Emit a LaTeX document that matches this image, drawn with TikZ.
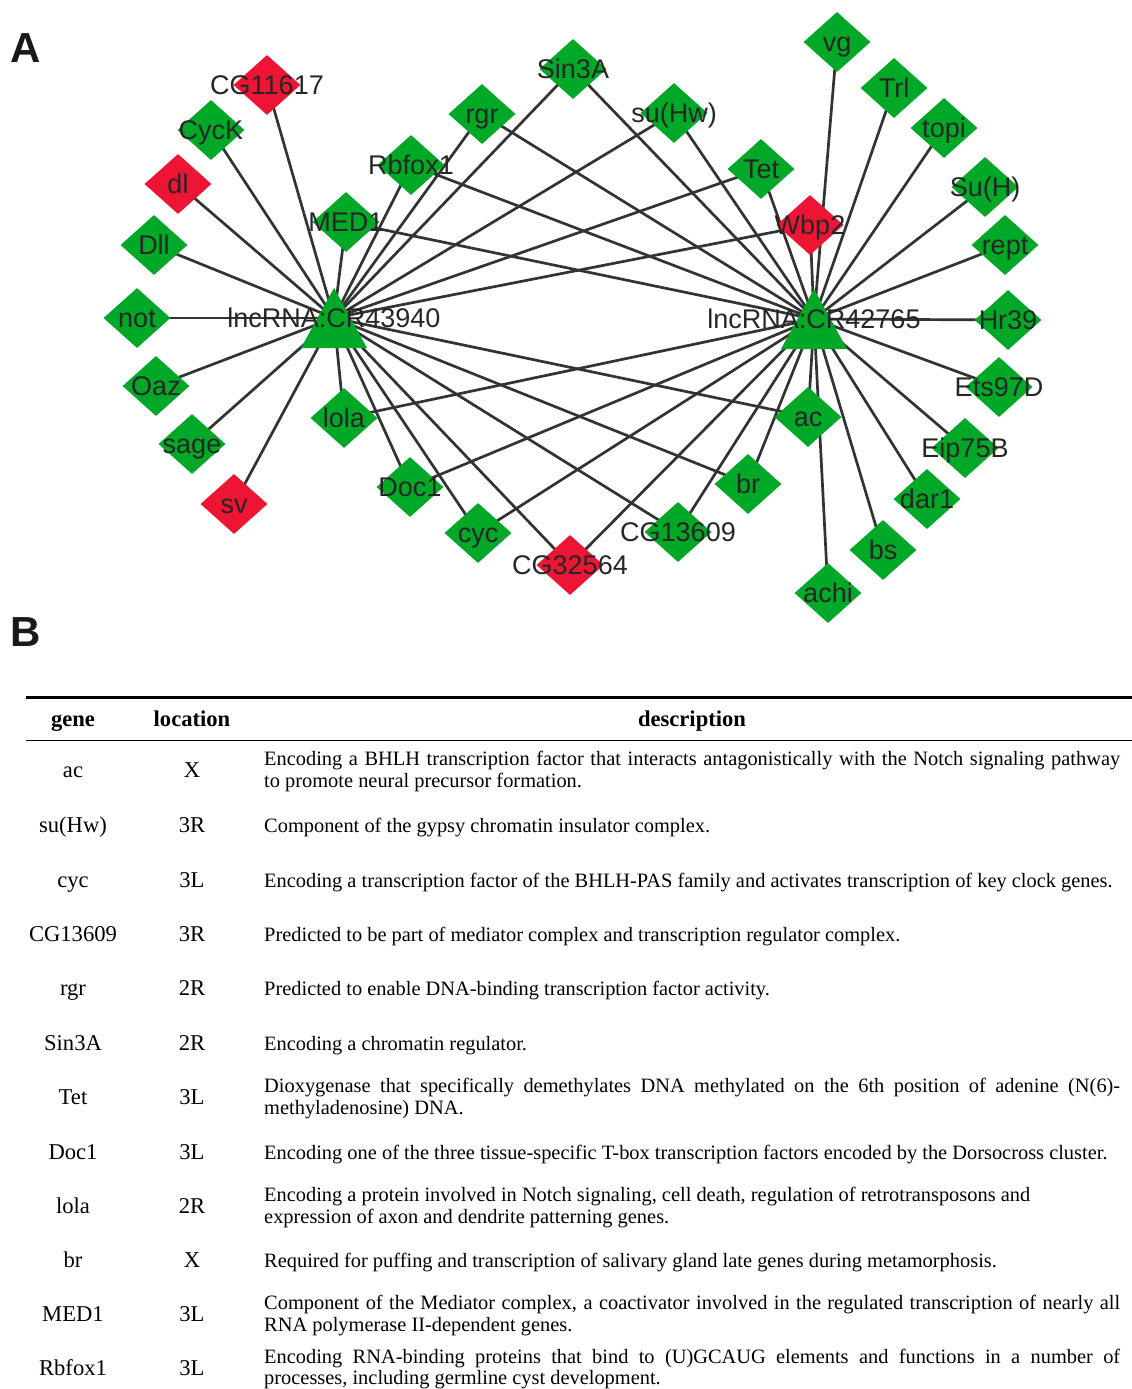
\documentclass[tikz,border=0pt]{standalone}
\usepackage{fontspec}
\setmainfont{Liberation Serif}
\newfontfamily\netfont{Liberation Sans}
\usetikzlibrary{shapes.geometric,backgrounds}
\definecolor{ngreen}{RGB}{0,168,40}
\definecolor{nred}{RGB}{238,20,52}
\definecolor{edgec}{RGB}{51,51,51}
\definecolor{labc}{RGB}{38,38,38}
\begin{document}
\begin{tikzpicture}[x=1pt,y=-1pt,
  labsty/.style={font=\netfont\fontsize{27}{30}\selectfont, text=labc, inner sep=0pt, text height=24.4pt, text depth=5.7pt},
  gnode/.style={diamond, fill=ngreen, minimum width=67pt, minimum height=60pt, inner sep=0pt, label={[labsty]center:{#1}}},
  rnode/.style={gnode={#1}, fill=nred},
  hub/.style={minimum width=66pt, minimum height=60pt, inner sep=0pt,
    path picture={\fill[ngreen] (path picture bounding box.north) -- (path picture bounding box.south east) -- (path picture bounding box.south west) -- cycle;},
    label={[labsty]center:{#1}}},
  edge/.style={draw=edgec, line width=2.7pt},
  panel/.style={font=\netfont\bfseries\fontsize{42}{42}\selectfont, text=black!90, inner sep=0pt},
  thead/.style={font=\bfseries\fontsize{22.6}{26}\selectfont, inner sep=0pt, anchor=base},
  tcell/.style={font=\fontsize{22.6}{26}\selectfont, inner sep=0pt, anchor=base},
  desc/.style={font=\fontsize{20.4}{22}\selectfont, inner sep=0pt, anchor=base west}
]
\useasboundingbox (0,0) rectangle (1132,1389);

\node[panel] (pA) at (26,48) {A};
\node[panel] (pB) at (26,632) {B};

% hubs
\node[hub={lncRNA:CR43940}] (L) at (334,318) {};
\node[hub={lncRNA:CR42765}] (R) at (814,319) {};

% left-only genes
\node[rnode={CG11617}] (CGa) at (267,85) {};
\node[gnode={CycK}] (CycK) at (211,130) {};
\node[rnode={dl}] (dl) at (178,184) {};
\node[gnode={Dll}] (Dll) at (154,245) {};
\node[gnode={not}] (not) at (137,318) {};
\node[gnode={Oaz}] (Oaz) at (156,386) {};
\node[gnode={sage}] (sage) at (192,444) {};
\node[rnode={sv}] (sv) at (234,504) {};

% shared genes
\node[gnode={MED1}] (MED) at (346,222) {};
\node[gnode={Rbfox1}] (Rbf) at (411,165) {};
\node[gnode={rgr}] (rgr) at (482,114) {};
\node[gnode={Sin3A}] (Sin) at (573,69) {};
\node[gnode={su(Hw)}] (suHw) at (674,113) {};
\node[gnode={Tet}] (Tet) at (761,169) {};
\node[rnode={Wbp2}] (Wbp) at (810,225) {};
\node[gnode={lola}] (lola) at (344,418) {};
\node[gnode={Doc1}] (Doc) at (410,487) {};
\node[gnode={cyc}] (cyc) at (478,533) {};
\node[rnode={CG32564}] (CGb) at (570,565) {};
\node[gnode={CG13609}] (CGc) at (678,532) {};
\node[gnode={br}] (br) at (748,484) {};
\node[gnode={ac}] (ac) at (808,417) {};

% right-only genes
\node[gnode={vg}] (vg) at (837,42) {};
\node[gnode={Trl}] (Trl) at (894,88) {};
\node[gnode={topi}] (topi) at (944,128) {};
\node[gnode={Su(H)}] (SuH) at (985,187) {};
\node[gnode={rept}] (rept) at (1005,245) {};
\node[gnode={Hr39}] (Hr) at (1008,320) {};
\node[gnode={Ets97D}] (Ets) at (999,387) {};
\node[gnode={Eip75B}] (Eip) at (965,448) {};
\node[gnode={dar1}] (dar) at (927,499) {};
\node[gnode={bs}] (bs) at (883,550) {};
\node[gnode={achi}] (achi) at (828,593) {};

\begin{scope}[on background layer]
  \foreach \g in {CGa,CycK,dl,Dll,not,Oaz,sage,sv,MED,Rbf,rgr,Sin,suHw,Tet,Wbp,lola,Doc,cyc,CGb,CGc,br,ac}
    \draw[edge] (L.center) -- (\g.center);
  \foreach \g in {MED,Rbf,rgr,Sin,suHw,Tet,Wbp,lola,Doc,cyc,CGb,CGc,br,ac,vg,Trl,topi,SuH,rept,Hr,Ets,Eip,dar,bs,achi}
    \draw[edge] (R.center) -- (\g.center);
\end{scope}

% table
\draw[line width=3pt] (26,697.5) -- (1132,697.5);
\draw[line width=1.8pt] (26,740.5) -- (1132,740.5);
\node[thead] (hg) at (73,726) {gene};
\node[thead] (hl) at (192,726) {location};
\node[thead] (hd) at (692,726) {description};

\node[tcell] (g1) at (73,777.5) {ac};
\node[tcell] (l1) at (192,777.5) {X};
\node[desc] (d1) at (264,765.5) {\hbox to 856pt{Encoding a BHLH transcription factor that interacts antagonistically with the Notch signaling pathway}};
\node[desc] (d1b) at (264,787.5) {to promote neural precursor formation.};

\node[tcell] (g2) at (73,832.5) {su(Hw)};
\node[tcell] (l2) at (192,832.5) {3R};
\node[desc] (d2) at (264,832) {Component of the gypsy chromatin insulator complex.};

\node[tcell] (g3) at (73,887.5) {cyc};
\node[tcell] (l3) at (192,887.5) {3L};
\node[desc] (d3) at (264,887) {Encoding a transcription factor of the BHLH-PAS family and activates transcription of key clock genes.};

\node[tcell] (g4) at (73,941.5) {CG13609};
\node[tcell] (l4) at (192,941.5) {3R};
\node[desc] (d4) at (264,941) {Predicted to be part of mediator complex and transcription regulator complex.};

\node[tcell] (g5) at (73,995.5) {rgr};
\node[tcell] (l5) at (192,995.5) {2R};
\node[desc] (d5) at (264,995) {Predicted to enable DNA-binding transcription factor activity.};

\node[tcell] (g6) at (73,1050.5) {Sin3A};
\node[tcell] (l6) at (192,1050.5) {2R};
\node[desc] (d6) at (264,1050) {Encoding a chromatin regulator.};

\node[tcell] (g7) at (73,1104.5) {Tet};
\node[tcell] (l7) at (192,1104.5) {3L};
\node[desc] (d7) at (264,1092.5) {\hbox to 856pt{Dioxygenase that specifically demethylates DNA methylated on the 6th position of adenine (N(6)-}};
\node[desc] (d7b) at (264,1114.5) {methyladenosine) DNA.};

\node[tcell] (g8) at (73,1159.5) {Doc1};
\node[tcell] (l8) at (192,1159.5) {3L};
\node[desc] (d8) at (264,1159) {Encoding one of the three tissue-specific T-box transcription factors encoded by the Dorsocross cluster.};

\node[tcell] (g9) at (73,1213.5) {lola};
\node[tcell] (l9) at (192,1213.5) {2R};
\node[desc] (d9) at (264,1201.5) {Encoding a protein involved in Notch signaling, cell death, regulation of retrotransposons and};
\node[desc] (d9b) at (264,1223.5) {expression of axon and dendrite patterning genes.};

\node[tcell] (g10) at (73,1267.5) {br};
\node[tcell] (l10) at (192,1267.5) {X};
\node[desc] (d10) at (264,1267) {Required for puffing and transcription of salivary gland late genes during metamorphosis.};

\node[tcell] (g11) at (73,1321.5) {MED1};
\node[tcell] (l11) at (192,1321.5) {3L};
\node[desc] (d11) at (264,1309.5) {\hbox to 856pt{Component of the Mediator complex, a coactivator involved in the regulated transcription of nearly all}};
\node[desc] (d11b) at (264,1331.5) {RNA polymerase II-dependent genes.};

\node[tcell] (g12) at (73,1375.5) {Rbfox1};
\node[tcell] (l12) at (192,1375.5) {3L};
\node[desc] (d12) at (264,1363.5) {\hbox to 856pt{Encoding RNA-binding proteins that bind to (U)GCAUG elements and functions in a number of}};
\node[desc] (d12b) at (264,1384.5) {processes, including germline cyst development.};
\end{tikzpicture}
\end{document}
